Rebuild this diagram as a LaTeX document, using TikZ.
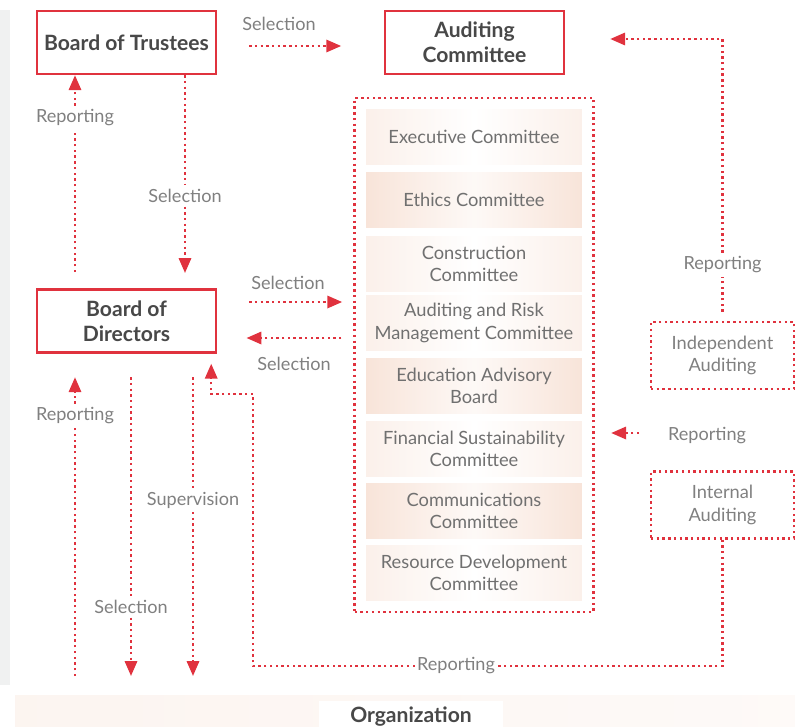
\documentclass[tikz,border=0pt]{standalone}
\usepackage{fontspec}
\setmainfont{Lato}
\usetikzlibrary{arrows.meta,fit}
\definecolor{lineRed}{RGB}{224,50,62}
\definecolor{labelGray}{RGB}{128,128,128}
\definecolor{textGray}{RGB}{112,112,112}
\definecolor{titleGray}{RGB}{72,72,72}
\definecolor{peachDark}{RGB}{248,228,217}
\definecolor{peachLight}{RGB}{251,240,234}
\definecolor{stripGray}{RGB}{240,241,241}
\tikzset{
  board/.style = {rectangle, draw=lineRed, line width=1.4pt, fill=white, minimum width=3.58cm, minimum height=1.26cm, align=center, text=titleGray, font=\bfseries\fontsize{12}{14}\selectfont},
  committee/.style = {rectangle, minimum width=4.32cm, minimum height=1.1cm, inner sep=0pt, align=center, text=textGray, font=\fontsize{10.4}{12.6}\selectfont, left color=peachLight, right color=peachLight, middle color=white},
  committeeDark/.style = {committee, left color=peachDark, right color=peachDark, middle color=peachLight!40!white},
  dotline/.style = {line width=1.35pt, dash pattern=on 1.35pt off 1.9pt},
  flow/.style = {draw=lineRed, dotline},
  arrowed/.style = {-{Triangle[length=8.5pt, width=7pt]}},
  auditbox/.style = {rectangle, flow, minimum width=2.86cm, minimum height=1.34cm, align=center, text=labelGray, font=\fontsize{10.4}{12.6}\selectfont},
  flowtext/.style = {text=labelGray, font=\fontsize{10.3}{12.4}\selectfont, inner sep=2pt}
}

\begin{document}
\begin{tikzpicture}[x=0.02cm, y=-0.02cm]
\useasboundingbox (0,0) rectangle (795,727);
% BACKGROUND
\fill[stripGray] (0,10) rectangle (10,685);
\shade[left color=peachLight!70!white, right color=peachLight!35!white] (15,695) rectangle (795,727);
% BOARDS
\node[board] (Board-T-Node) at (126.5,42.5) {Board of Trustees};
\node[board] (Board-D-Node) at (126.5,321) {Board of\\Directors};
\node[board] (Audit-C-Node) at (474.5,42.5) {Auditing\\Committee};
% COMMITTEES
\node[committee] (Com-1-Node) at (474,137) {Executive Committee};
\node[committeeDark] (Com-2-Node) at (474,200) {Ethics Committee};
\node[committee] (Com-3-Node) at (474,264) {Construction\\Committee};
\node[committee] (Com-4-Node) at (474,323) {Auditing and Risk\\Management Committee};
\node[committeeDark] (Com-5-Node) at (474,386) {Education Advisory\\Board};
\node[committee] (Com-6-Node) at (474,449) {Financial Sustainability\\Committee};
\node[committeeDark] (Com-7-Node) at (474,511) {Communications\\Committee};
\node[committee] (Com-8-Node) at (474,573) {Resource Development\\Committee};
% COMMITTEE BOX
\node[flow, fit=(Com-1-Node)(Com-8-Node), inner sep=0.22cm] (Com-Box) {};
% AUDITING
\node[auditbox] (Audit-I-Node) at (722.5,355.5) {Independent\\Auditing};
\node[auditbox] (Audit-N-Node) at (722.5,505) {Internal\\Auditing};
% ORGANIZATION
\node[fill=white, minimum width=3.7cm, minimum height=0.5cm, anchor=north, text=titleGray, font=\bfseries\fontsize{12}{14}\selectfont] (Org-Node) at (411,701) {Organization};
% LABELS
\node[flowtext] (Sel-TA-Text) at (279,24) {Selection};
\node[flowtext] (Rep-DT-Text) at (75,118) {Reporting};
\node[flowtext] (Sel-TD-Text) at (185,196) {Selection};
\node[flowtext] (Sel-DC-Text) at (288,283) {Selection};
\node[flowtext] (Sel-CD-Text) at (294,364) {Selection};
\node[flowtext] (Rep-IA-Text) at (722.5,265) {Reporting};
\node[flowtext] (Rep-NC-Text) at (707,436) {Reporting};
\node[flowtext] (Rep-OD-Text) at (75,416) {Reporting};
\node[flowtext] (Sel-DO-Text) at (131,607) {Selection};
\node[flowtext] (Sup-DO-Text) at (193,500) {Supervision};
\node[flowtext, inner sep=1pt] (Rep-ND-Text) at (456,666) {Reporting};
% FREE ENDS
\coordinate (Rep-DT-Start) at (75,272);
\coordinate (Sel-TD-End) at (185,273);
\coordinate (Rep-OD-Start) at (75,676);
\coordinate (Sel-DO-End) at (131,676);
\coordinate (Sup-DO-End) at (193,676);
\coordinate (Rep-ND-Corner) at (253,394);
% CONNECTORS
\draw[flow, arrowed] ([xshift=0.64cm, yshift=-0.07cm]Board-T-Node.east) -- ++(92,0);
\draw[flow] (Rep-DT-Start) -- (Rep-DT-Text);
\draw[flow, arrowed] (Rep-DT-Text) -- (Rep-DT-Text |- Board-T-Node.south);
\draw[flow] (Board-T-Node.south -| Sel-TD-Text) -- (Sel-TD-Text);
\draw[flow, arrowed] (Sel-TD-Text) -- (Sel-TD-End);
\draw[flow, arrowed] ([xshift=0.64cm, yshift=0.38cm]Board-D-Node.east) -- ++(93,0);
\draw[flow, arrowed] ([xshift=-0.24cm, yshift=0.34cm]Com-Box.west) -- ++(-95,0);
\draw[flow, shorten <=0.18cm] (Audit-I-Node.north) -- (Rep-IA-Text);
\draw[flow, arrowed] (Rep-IA-Text) |- ([xshift=0.9cm, yshift=0.07cm]Audit-C-Node.east);
\draw[flow, arrowed] ([xshift=-0.5cm, yshift=0.06cm]Rep-NC-Text.west) -- ++(-28,0);
\draw[flow] (Audit-N-Node.south) |- (Rep-ND-Text);
\draw[flow, arrowed] (Rep-ND-Text) -| (Rep-ND-Corner) -| ([xshift=-0.12cm, yshift=-0.2cm]Board-D-Node.south east);
\draw[flow] (Rep-OD-Start) -- (Rep-OD-Text);
\draw[flow, arrowed] (Rep-OD-Text) -- ([yshift=-0.47cm]Board-D-Node.south -| Rep-OD-Text);
\draw[flow] ([yshift=-0.47cm]Board-D-Node.south -| Sel-DO-Text) -- (Sel-DO-Text);
\draw[flow, arrowed] (Sel-DO-Text) -- (Sel-DO-End);
\draw[flow] ([yshift=-0.47cm]Board-D-Node.south -| Sup-DO-Text) -- (Sup-DO-Text);
\draw[flow, arrowed] (Sup-DO-Text) -- (Sup-DO-End);
\end{tikzpicture}
\end{document}
